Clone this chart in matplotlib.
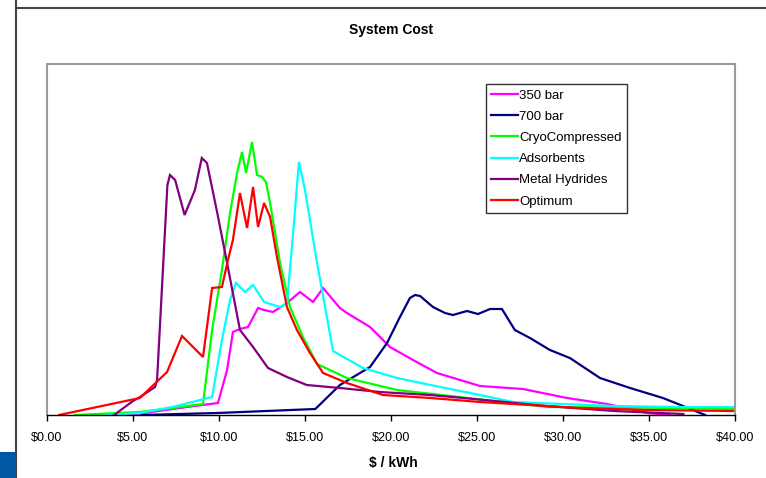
import matplotlib
matplotlib.use("Agg")
import matplotlib.pyplot as plt
from matplotlib.lines import Line2D
from matplotlib.patches import Rectangle

# cost ($/kWh) vs relative frequency
x_350 = [4.8, 8.14, 9.94, 10.47, 10.81, 11.22, 11.69, 12.27, 12.62, 13.14, 13.95, 14.71,
         15.47, 16.05, 17.03, 17.44, 18.78, 19.94, 21.28, 22.67, 25.17, 27.67, 30.23,
         32.56, 34.9, 36.2]
y_350 = [0, 8, 12, 45, 83, 86, 88, 107, 105, 103, 112, 123,
         113, 127, 107, 102, 88, 68, 55, 42, 29, 26, 17,
         11, 2, 0]

x_700 = [5.5, 9.9, 15.6, 17.03, 18.78, 19.77, 20.52, 21.1, 21.4, 21.69, 22.44, 23.14,
         23.6, 24.42, 25.06, 25.76, 26.45, 27.2, 28.08, 29.24, 30.4, 32.15, 33.9,
         35.81, 36.98, 38.26]
y_700 = [0, 2, 6, 30, 48, 72, 98, 117, 120, 119, 108, 102,
         100, 104, 101, 106, 106, 85, 77, 65, 57, 37, 27,
         17, 9, 0]

x_cryo = [1.6, 5.4, 7.3, 9.07, 9.6, 10.17, 10.64, 11.05, 11.34, 11.57, 11.92, 12.21,
          12.5, 12.73, 12.97, 13.55, 14.13, 14.88, 15.7, 17.44, 20.35, 29.1, 36.8, 40.0]
y_cryo = [0, 3, 7, 11, 85, 145, 202, 242, 263, 242, 273, 240,
          238, 233, 212, 152, 108, 78, 51, 37, 25, 8, 7, 6]

x_ads = [3.5, 5.4, 7.3, 9.6, 10.17, 10.64, 10.99, 11.51, 11.98, 12.62, 13.55, 13.95,
         14.24, 14.65, 15.0, 15.7, 16.63, 18.37, 20.35, 22.3, 25.17, 27.1, 32.9, 36.8, 40.0]
y_ads = [0, 2, 8, 18, 75, 115, 132, 123, 130, 113, 108, 112,
         168, 253, 225, 152, 64, 47, 37, 30, 20, 13, 9, 8, 8]

x_mh = [3.9, 5.0, 5.41, 6.28, 6.4, 7.0, 7.15, 7.45, 8.0, 8.6, 9.0, 9.3, 9.9, 10.47,
        11.22, 11.98, 12.85, 13.95, 15.1, 17.03, 19.36, 22.27, 24.2, 29.0, 33.0, 37.0]
y_mh = [0, 14, 18, 28, 35, 230, 240, 235, 200, 225, 257, 252, 202, 152,
        85, 68, 47, 38, 30, 27, 23, 20, 17, 9, 4, 1]

x_opt = [0.7, 5.4, 6.98, 7.85, 9.07, 9.6, 10.17, 10.52, 10.81, 11.22, 11.63, 11.98,
         12.27, 12.62, 12.97, 13.37, 13.95, 14.53, 15.29, 16.05, 17.44, 19.53, 22.3,
         25.17, 31.0, 34.9, 40.0]
y_opt = [0, 17, 43, 79, 58, 127, 128, 155, 175, 222, 187, 228,
         188, 212, 198, 158, 108, 85, 62, 42, 32, 20, 17,
         13, 7, 5, 4]

series = [
    ("350 bar", x_350, y_350, "#ff00ff"),
    ("700 bar", x_700, y_700, "#000080"),
    ("CryoCompressed", x_cryo, y_cryo, "#00ff00"),
    ("Adsorbents", x_ads, y_ads, "#00ffff"),
    ("Metal Hydrides", x_mh, y_mh, "#800080"),
    ("Optimum", x_opt, y_opt, "#ff0000"),
]
xticks = [0, 5, 10, 15, 20, 25, 30, 35, 40]

W, H = 766, 478
fig = plt.figure(figsize=(W / 100, H / 100), dpi=100)
plt.rcParams["font.family"] = ["Liberation Sans", "DejaVu Sans"]

ax = fig.add_axes([47 / W, 1 - 415 / H, (735 - 47) / W, (415 - 64) / H])
for name, xs, ys, c in series:
    ax.plot(xs, ys, color=c, lw=1.6, label=name, solid_joinstyle="miter")

ax.set_xlim(0, 40)
ax.set_ylim(0, 351)
ax.set_yticks([])
ax.set_xticks(xticks)
ax.set_xticklabels([f"${v:.2f}" for v in xticks], fontsize=9)
ax.tick_params(axis="x", direction="out", length=4, width=1, pad=8, colors="black")
for s in ("left", "top", "right"):
    ax.spines[s].set_color("#9a9a9a")
    ax.spines[s].set_linewidth(1.5)
ax.spines["bottom"].set_color("black")
ax.spines["bottom"].set_linewidth(1)

leg = ax.legend(loc="upper left", bbox_to_anchor=(486 / W, 1 - 84 / H),
                bbox_transform=fig.transFigure, borderaxespad=0, fontsize=9.5,
                frameon=True, fancybox=False, edgecolor="black", handlelength=2.0,
                handletextpad=0.1, labelspacing=0.68, borderpad=0.4)
leg.get_frame().set_linewidth(1)

fig.text(391 / W, 1 - 30 / H, "System Cost", ha="center", va="center",
         fontsize=10, fontweight="bold")
fig.text(393 / W, 1 - 463 / H, "$ / kWh", ha="center", va="center",
         fontsize=10, fontweight="bold")

# slide frame bits
fig.add_artist(Line2D([16 / W, 16 / W], [0, 1], transform=fig.transFigure,
                      color="#444444", lw=1.5))
fig.add_artist(Line2D([16 / W, 1], [1 - 8 / H, 1 - 8 / H], transform=fig.transFigure,
                      color="#444444", lw=1.5))
fig.add_artist(Rectangle((0, 0), 15 / W, 26 / H, transform=fig.transFigure,
                         color="#0057a3", lw=0))

fig.savefig("out.png", dpi=100)
